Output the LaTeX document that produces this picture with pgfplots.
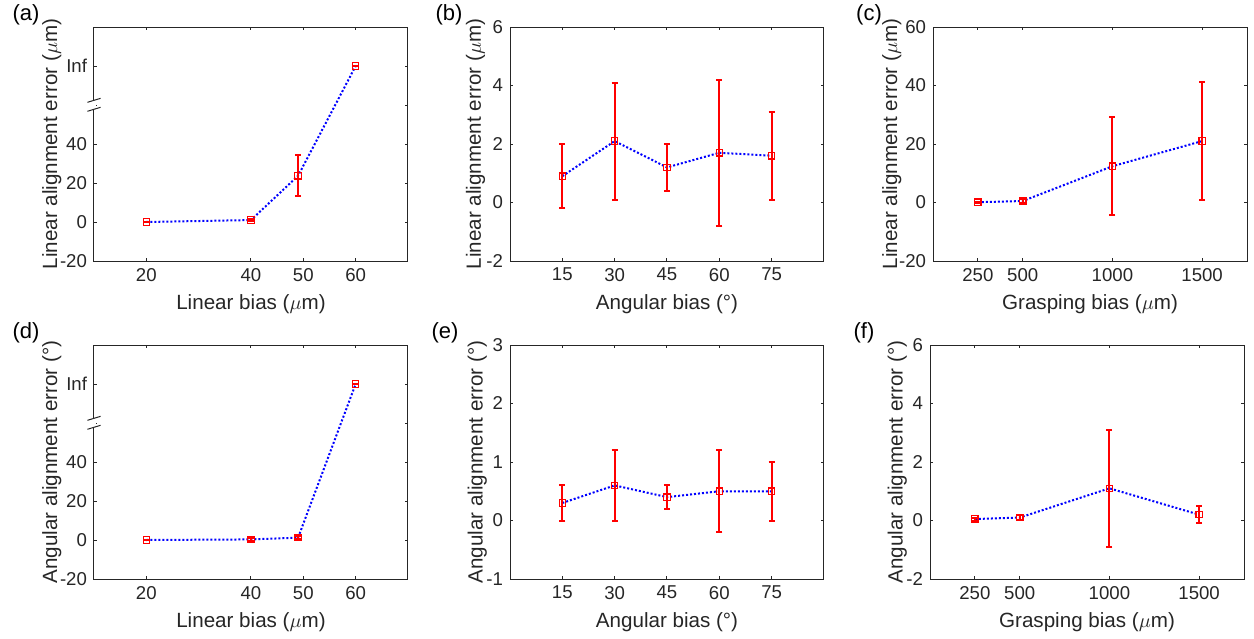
\documentclass[border=0pt]{standalone}
\usepackage{fontspec}
\setmainfont{Liberation Sans}
\usepackage{pgfplots}
\pgfplotsset{compat=1.18}

\definecolor{axgray}{gray}{0.15}
\tikzset{brk/.style={axgray, line width=0.5pt}}

\pgfplotsset{
  panel/.style={
    scale only axis, anchor=south west,
    width=157pt, height=117pt,
    axis line style={axgray, line width=0.5pt},
    tick style={axgray, line width=0.5pt},
    major tick length=1.7pt,
    tick align=inside,
    tick label style={font=\fontsize{9.3}{11}\selectfont, text=axgray},
    label style={font=\fontsize{10.3}{12}\selectfont, text=axgray},
    /pgf/number format/assume math mode=true,
    clip=false,
  },
  ylab/.style={ylabel style={at={(axis description cs:#1,0.5)}, anchor=center}},
  trend/.style={blue, densely dotted, line width=1pt},
  errs/.style={
    red, only marks, mark=square, mark size=1.6pt,
    mark options={red, line width=0.6pt, solid},
    error bars/.cd, y dir=both, y explicit,
    error bar style={red, line width=1pt},
    error mark options={red, line width=1pt, mark size=1.5pt, rotate=90},
  },
}

\begin{document}
\begin{tikzpicture}
\useasboundingbox (0,0) rectangle (627pt,319pt);

% ---- (a)
\begin{axis}[panel, ylab=-0.134, at={(47pt,188.5pt)},
  xmin=10, xmax=70, ymin=-20, ymax=100,
  xtick={20,40,50,60}, ytick={-20,0,20,40,60,80},
  yticklabels={-20,0,20,40,{},Inf},
  xlabel={Linear bias ($\mu$m)}, ylabel={Linear alignment error ($\mu$m)}]
\addplot[trend] coordinates {(20,0) (40,1) (49,23.7) (60,80)};
\addplot[errs] table[x=x, y=y, y error plus=ep, y error minus=em] {
x y ep em
20 0 0 0
40 1 0.5 0.5
49 23.7 10.5 10.5
60 80 0 0
};
\draw[white, line width=2pt] (axis cs:10,58.2) -- (axis cs:10,62);
\draw[brk] (axis cs:10,62.4) ++(-3.3pt,-1pt) -- ++(6.6pt,2pt);
\draw[brk] (axis cs:10,57.8) ++(-3.3pt,-1pt) -- ++(6.6pt,2pt);
\end{axis}

% ---- (b)
\begin{axis}[panel, ylab=-0.11, at={(255pt,188.5pt)},
  xmin=0, xmax=90, ymin=-2, ymax=6,
  xtick={15,30,45,60,75}, ytick={-2,0,2,4,6},
  xlabel={Angular bias (°)}, ylabel={Linear alignment error ($\mu$m)}]
\addplot[trend] coordinates {(15,0.9) (30,2.1) (45,1.2) (60,1.7) (75,1.6)};
\addplot[errs] table[x=x, y=y, y error plus=ep, y error minus=em] {
x y ep em
15 0.9 1.1 1.1
30 2.1 2.0 2.0
45 1.2 0.8 0.8
60 1.7 2.5 2.5
75 1.6 1.5 1.5
};
\end{axis}

% ---- (c)
\begin{axis}[panel, ylab=-0.131, at={(466.5pt,188.5pt)},
  xmin=0, xmax=1750, ymin=-20, ymax=60,
  xtick={250,500,1000,1500}, ytick={-20,0,20,40,60},
  xticklabels={250,500,1000,1500},
  xlabel={Grasping bias ($\mu$m)}, ylabel={Linear alignment error ($\mu$m)}]
\addplot[trend] coordinates {(250,0.1) (500,0.5) (1000,12.4) (1500,21)};
\addplot[errs] table[x=x, y=y, y error plus=ep, y error minus=em] {
x y ep em
250 0.1 0.2 0.2
500 0.5 0.6 0.6
1000 12.4 16.8 16.8
1500 21 20.2 20.2
};
\end{axis}

% ---- (d)
\begin{axis}[panel, ylab=-0.134, at={(47pt,29.5pt)},
  xmin=10, xmax=70, ymin=-20, ymax=100,
  xtick={20,40,50,60}, ytick={-20,0,20,40,60,80},
  yticklabels={-20,0,20,40,{},Inf},
  xlabel={Linear bias ($\mu$m)}, ylabel={Angular alignment error (°)}]
\addplot[trend] coordinates {(20,0) (40,0.3) (49,1.2) (60,80)};
\addplot[errs] table[x=x, y=y, y error plus=ep, y error minus=em] {
x y ep em
20 0 0 0
40 0.3 0.6 0.6
49 1.2 0.7 0.7
60 80 0 0
};
\draw[white, line width=2pt] (axis cs:10,58.2) -- (axis cs:10,62);
\draw[brk] (axis cs:10,62.4) ++(-3.3pt,-1pt) -- ++(6.6pt,2pt);
\draw[brk] (axis cs:10,57.8) ++(-3.3pt,-1pt) -- ++(6.6pt,2pt);
\end{axis}

% ---- (e)
\begin{axis}[panel, ylab=-0.104, at={(255pt,29.5pt)},
  xmin=0, xmax=90, ymin=-1, ymax=3,
  xtick={15,30,45,60,75}, ytick={-1,0,1,2,3},
  xlabel={Angular bias (°)}, ylabel={Angular alignment error (°)}]
\addplot[trend] coordinates {(15,0.3) (30,0.6) (45,0.4) (60,0.5) (75,0.5)};
\addplot[errs] table[x=x, y=y, y error plus=ep, y error minus=em] {
x y ep em
15 0.3 0.3 0.3
30 0.6 0.6 0.6
45 0.4 0.2 0.2
60 0.5 0.7 0.7
75 0.5 0.5 0.5
};
\end{axis}

% ---- (f)
\begin{axis}[panel, ylab=-0.104, at={(465pt,29.5pt)},
  xmin=0, xmax=1750, ymin=-2, ymax=6,
  xtick={250,500,1000,1500}, ytick={-2,0,2,4,6},
  xticklabels={250,500,1000,1500},
  xlabel={Grasping bias ($\mu$m)}, ylabel={Angular alignment error (°)}]
\addplot[trend] coordinates {(250,0.05) (500,0.1) (1000,1.1) (1500,0.2)};
\addplot[errs] table[x=x, y=y, y error plus=ep, y error minus=em] {
x y ep em
250 0.05 0.05 0.05
500 0.1 0.08 0.08
1000 1.1 2.0 2.0
1500 0.2 0.3 0.3
};
\end{axis}

\begin{scope}[every node/.style={font=\fontsize{11}{13}\selectfont, text=black}]
\node at (13pt,311.5pt) {(a)};
\node at (224.5pt,311.5pt) {(b)};
\node at (434.5pt,311.5pt) {(c)};
\node at (13pt,152.5pt) {(d)};
\node at (222.5pt,152.5pt) {(e)};
\node at (432pt,152.5pt) {(f)};
\end{scope}
\end{tikzpicture}
\end{document}
